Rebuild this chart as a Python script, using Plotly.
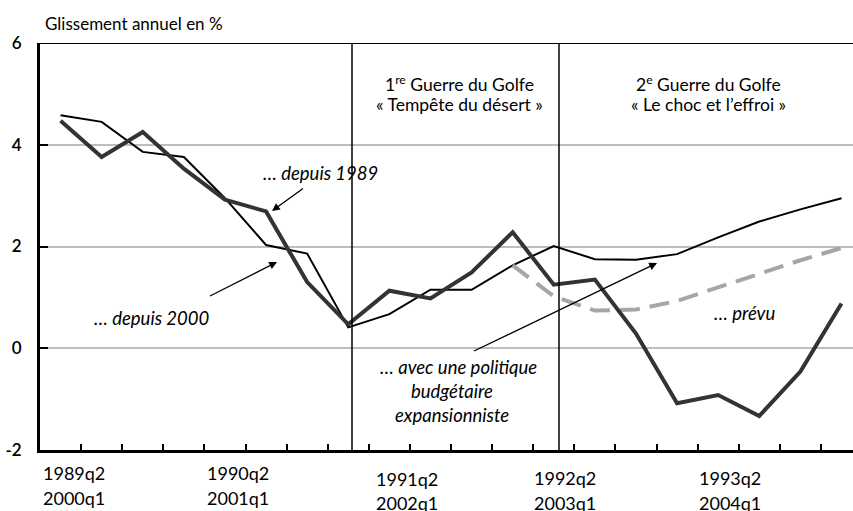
import plotly.graph_objects as go

# ---------------- data ----------------
quarters_1989 = ["1989q2", "1989q3", "1989q4", "1990q1", "1990q2", "1990q3", "1990q4", "1991q1",
                 "1991q2", "1991q3", "1991q4", "1992q1", "1992q2", "1992q3", "1992q4", "1993q1",
                 "1993q2", "1993q3", "1993q4", "1994q1"]
quarters_2000 = ["2000q1", "2000q2", "2000q3", "2000q4", "2001q1", "2001q2", "2001q3", "2001q4",
                 "2002q1", "2002q2", "2002q3", "2002q4", "2003q1", "2003q2", "2003q3", "2003q4",
                 "2004q1", "2004q2", "2004q3", "2004q4"]

depuis_1989 = [4.47, 3.76, 4.25, 3.53, 2.92, 2.69, 1.30, 0.47, 1.13, 0.98,
               1.49, 2.28, 1.25, 1.35, 0.29, -1.08, -0.92, -1.33, -0.46, 0.88]
depuis_2000 = [4.58, 4.45, 3.86, 3.76, 2.95, 2.03, 1.86, 0.41, 0.67, 1.15,
               1.15, 1.63, 2.01, 1.75, 1.74, 1.85, 2.18, 2.49, 2.73, 2.95]
prevu = [None] * 11 + [1.63, 1.02, 0.74, 0.76, 0.93, 1.20, 1.48, 1.73, 1.97]

label_idx = [0, 4, 8, 12, 16]
y_ticks = [-2, 0, 2, 4, 6]
y_ticktext = ["-2", "0", "2", "4", "6"]

# ---------------- geometry helpers ----------------
W, H = 853, 511
L, R, T, B = 40, 0, 43, 61
X0, X1 = -0.5, 19.28
Y0, Y1 = -2, 6
PW, PH = W - L - R, H - T - B


def px_x(px):
    return X0 + (px - L) / PW * (X1 - X0)


def px_y(py):
    return Y1 - (py - T) / PH * (Y1 - Y0)


def paper_x(px):
    return (px - L) / PW


def paper_y(py):
    return (H - B - py) / PH


idx = list(range(len(depuis_1989)))
FONT = "Lato"

fig = go.Figure()
fig.add_trace(go.Scatter(x=idx, y=depuis_2000, mode="lines",
                         line=dict(color="#000000", width=2), name="depuis 2000"))
fig.add_trace(go.Scatter(x=idx, y=prevu, mode="lines",
                         line=dict(color="#a6a6a6", width=4, dash="20px,10px"), name="prévu"))
fig.add_trace(go.Scatter(x=idx, y=depuis_1989, mode="lines",
                         line=dict(color="#333333", width=4), name="depuis 1989"))

shapes = []
shapes.append(dict(type="line", xref="paper", yref="y", x0=0, x1=1, y0=6, y1=6,
                   line=dict(color="black", width=2)))
for vx in [px_x(352), px_x(559)]:
    shapes.append(dict(type="line", xref="x", yref="y", x0=vx, x1=vx, y0=-2, y1=6,
                       line=dict(color="black", width=1.5)))

ann = []
ann.append(dict(text="Glissement annuel en %", xref="paper", yref="paper",
                x=paper_x(43), y=paper_y(24), xanchor="left", yanchor="middle",
                showarrow=False, font=dict(size=17, color="black")))

shifts = {0: 13, 4: 13, 8: 18, 12: 11, 16: 12}
rows = {0: (473, 498), 4: (473, 498), 8: (479, 503), 12: (478, 503), 16: (478, 503)}
for k in label_idx:
    r1, r2 = rows[k]
    for txt, py in [(quarters_1989[k], r1), (quarters_2000[k], r2)]:
        ann.append(dict(text=txt, xref="x", yref="paper", x=k, xshift=shifts[k],
                        y=paper_y(py), xanchor="center", yanchor="middle",
                        showarrow=False, font=dict(size=18, color="black")))

for cx, l1, l2 in [(459, "1<sup>re</sup> Guerre du Golfe", "« Tempête du désert »"),
                   (708, "2<sup>e</sup> Guerre du Golfe", "« Le choc et l’effroi »")]:
    ann.append(dict(text=l1, x=px_x(cx), y=px_y(83), xanchor="center", yanchor="middle",
                    showarrow=False, font=dict(size=17.5, color="black")))
    ann.append(dict(text=l2, x=px_x(cx), y=px_y(104), xanchor="center", yanchor="middle",
                    showarrow=False, font=dict(size=17.5, color="black")))

ital = dict(size=18.5, color="black")
ann.append(dict(text="<i>… depuis 1989</i>", x=px_x(320), y=px_y(173), showarrow=False,
                xanchor="center", yanchor="middle", font=ital))
ann.append(dict(text="<i>… depuis 2000</i>", x=px_x(152), y=px_y(318), showarrow=False,
                xanchor="center", yanchor="middle", font=ital))
ann.append(dict(text="<i>… prévu</i>", x=px_x(744), y=px_y(313), showarrow=False,
                xanchor="center", yanchor="middle", font=ital))
for txt, py, cx in [("<i>… avec une politique</i>", 367, 458), ("<i>budgétaire</i>", 391, 452),
                    ("<i>expansionniste</i>", 415, 452)]:
    ann.append(dict(text=txt, x=px_x(cx), y=px_y(py), showarrow=False,
                    xanchor="center", yanchor="middle", font=ital))

for tip, tail in [((272, 211), (305, 187)), ((277, 262), (208, 297)), ((657, 263), (472, 352))]:
    ann.append(dict(text=" ", x=px_x(tip[0]), y=px_y(tip[1]), ax=tail[0] - tip[0], ay=tail[1] - tip[1],
                    showarrow=True, arrowhead=2, arrowsize=1.2, arrowwidth=1.3,
                    arrowcolor="black", standoff=0, font=dict(size=2)))

fig.update_layout(
    width=W, height=H,
    margin=dict(l=L, r=R, t=T, b=B, autoexpand=False),
    paper_bgcolor="white", plot_bgcolor="white",
    showlegend=False,
    font=dict(family=FONT, color="black"),
    shapes=shapes, annotations=ann,
    xaxis=dict(range=[X0, X1], showgrid=False, zeroline=False, showline=True, automargin=False,
               linecolor="black", linewidth=3, ticks="inside", ticklen=6, tickwidth=1.5,
               tickcolor="black", tickvals=[i + 0.5 for i in idx[:-1]], showticklabels=False),
    yaxis=dict(range=[Y0, Y1], tickvals=y_ticks, ticktext=y_ticktext, showgrid=True,
               gridcolor="#bdbdbd", gridwidth=1.5, zeroline=False, showline=True,
               linecolor="black", linewidth=3, automargin=False,
               ticks="inside", ticklen=8, tickwidth=2, tickcolor="black",
               ticklabelstandoff=12,
               tickfont=dict(size=17, color="black", family=FONT, weight=600)),
)

fig.write_html("out.html", config={"displayModeBar": False},
               post_script="document.body.style.margin='0';")
